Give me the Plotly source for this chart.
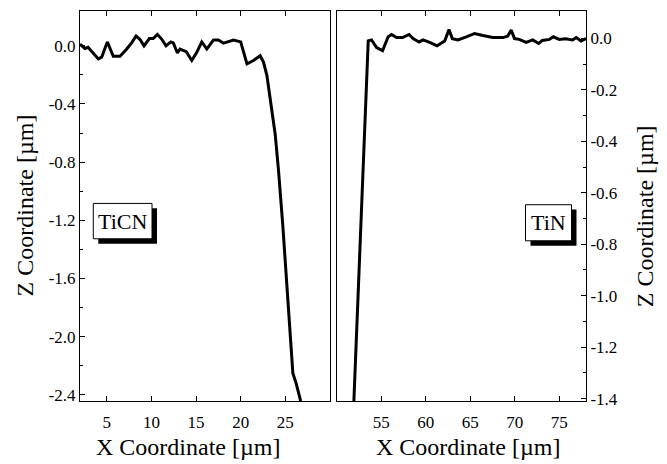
import plotly.graph_objects as go

# TiCN profile (left panel)
ticn_x = [2.0, 2.56, 2.9, 3.5, 4.05, 4.43, 5.06, 5.73, 6.48, 7.23, 7.8, 8.28, 8.7, 9.17, 9.77, 10.2,
          10.67, 11.16, 11.64, 12.17, 12.45, 12.91, 13.2, 13.9, 14.52, 15.08, 15.64, 16.2, 16.95,
          17.5, 18.07, 19.19, 20.0, 20.7, 21.43, 22.18, 22.55, 22.93, 23.38, 23.86, 24.23, 24.61,
          24.72, 25.09, 25.46, 25.84, 26.2, 26.66, 26.8]
ticn_z = [0.011, -0.018, -0.01, -0.05, -0.09, -0.078, 0.027, -0.072, -0.072, -0.022, 0.022, 0.068,
          0.045, 0.0, 0.05, 0.05, 0.079, 0.045, 0.0, 0.027, 0.02, -0.049, -0.022, -0.04, -0.101,
          -0.045, 0.027, -0.022, 0.04, 0.04, 0.018, 0.04, 0.027, -0.124, -0.101, -0.068, -0.112,
          -0.203, -0.405, -0.608, -0.855, -1.126, -1.24, -1.576, -1.914, -2.252, -2.32, -2.43, -2.5]

# TiN profile (right panel)
tin_x = [51.9, 51.94, 53.54, 53.92, 54.48, 55.15, 55.78, 56.16, 56.72, 57.4, 58.13, 58.58, 59.25,
         59.7, 60.45, 61.27, 62.13, 62.61, 62.99, 63.62, 64.56, 65.49, 66.42, 67.54, 68.66, 69.2,
         69.6, 69.97, 70.5, 71.28, 72.02, 72.69, 73.1, 73.89, 74.33, 75.0, 75.7, 76.5, 76.9, 77.44, 78.0]
tin_z = [-1.45, -1.40, -0.010, -0.006, -0.036, -0.048, 0.006, 0.015, 0.003, 0.003, 0.015, -0.001,
         -0.014, -0.006, -0.016, -0.029, -0.010, 0.034, -0.001, -0.006, 0.006, 0.019, 0.011, 0.003,
         0.003, 0.008, 0.032, -0.001, -0.004, -0.016, -0.006, -0.020, -0.008, -0.004, 0.006, -0.004,
         -0.002, -0.006, 0.003, -0.010, -0.001]

left_xticks = [5, 10, 15, 20, 25]
right_xticks = [55, 60, 65, 70, 75]
left_yticks = [0.0, -0.4, -0.8, -1.2, -1.6, -2.0, -2.4]
left_yminor = [-0.2, -0.6, -1.0, -1.4, -1.8, -2.2]
right_yticks = [0.0, -0.2, -0.4, -0.6, -0.8, -1.0, -1.2, -1.4]
right_yminor = [-0.1, -0.3, -0.5, -0.7, -0.9, -1.1, -1.3]

def lab(v):
    return "%.1f" % v

W, H = 667, 464
def px(x):
    return x / W
def py(y):
    return 1 - y / H

FONT = "Liberation Serif"
fig = go.Figure()
fig.add_trace(go.Scatter(x=ticn_x, y=ticn_z, mode="lines", line=dict(color="black", width=3),
                         xaxis="x", yaxis="y", showlegend=False))
fig.add_trace(go.Scatter(x=tin_x, y=tin_z, mode="lines", line=dict(color="black", width=3),
                         xaxis="x2", yaxis="y2", showlegend=False))

common = dict(showgrid=False, zeroline=False, showline=True, linecolor="black", linewidth=1,
              ticks="inside", ticklen=5, tickwidth=1, tickcolor="black",
              tickfont=dict(family=FONT, size=17, color="black"))

fig.update_layout(
    width=W, height=H, margin=dict(l=0, r=0, t=0, b=0),
    paper_bgcolor="white", plot_bgcolor="white",
    xaxis=dict(domain=[px(80), px(330)], range=[2, 30], anchor="y", mirror="ticks",
               ticklabelstandoff=6,
               tickmode="array", tickvals=left_xticks, ticktext=[str(v) for v in left_xticks], **common),
    yaxis=dict(domain=[py(408), py(11)], range=[-2.443, 0.241], anchor="x", mirror=True,
               tickmode="array", tickvals=left_yticks, ticktext=[lab(v) for v in left_yticks],
               minor=dict(tickmode="array", tickvals=left_yminor, ticks="inside", ticklen=3,
                          tickcolor="black"), **common),
    xaxis2=dict(domain=[px(336.7), px(586)], range=[50, 78], anchor="y2", mirror="ticks",
                ticklabelstandoff=6,
                tickmode="array", tickvals=right_xticks, ticktext=[str(v) for v in right_xticks], **common),
    yaxis2=dict(domain=[py(408), py(11)], range=[-1.409, 0.107], anchor="x2", side="right", mirror=True,
                tickmode="array", tickvals=right_yticks, ticktext=[lab(v) for v in right_yticks],
                minor=dict(tickmode="array", tickvals=right_yminor, ticks="inside", ticklen=3,
                           tickcolor="black"), **common),
)

# Axis titles
tf = dict(family=FONT, size=24, color="black")
fig.add_annotation(x=px(188), y=0, xref="paper", yref="paper", text="X Coordinate [µm]",
                   showarrow=False, font=tf, xanchor="center", yanchor="bottom", borderpad=0, yshift=-5)
fig.add_annotation(x=px(468), y=0, xref="paper", yref="paper", text="X Coordinate [µm]",
                   showarrow=False, font=tf, xanchor="center", yanchor="bottom", borderpad=0, yshift=-5)
fig.add_annotation(x=px(25), y=py(209), xref="paper", yref="paper", text="Z Coordinate [µm]",
                   textangle=-90, showarrow=False, font=tf, xanchor="center", yanchor="middle", borderpad=0)
fig.add_annotation(x=px(645), y=py(220), xref="paper", yref="paper", text="Z Coordinate [µm]",
                   textangle=-90, showarrow=False, font=tf, xanchor="center", yanchor="middle", borderpad=0)

# Labelled boxes with drop shadows
boxes = [("TiCN", 93.3, 207, 152, 243), ("TiN", 525.5, 208.3, 571.5, 245)]
for text, x0, y0, x1, y1 in boxes:
    fig.add_shape(type="rect", xref="paper", yref="paper", x0=px(x0 + 5), x1=px(x1 + 5),
                  y0=py(y1 + 5), y1=py(y0 + 5), fillcolor="black", line=dict(width=0))
    fig.add_shape(type="rect", xref="paper", yref="paper", x0=px(x0), x1=px(x1),
                  y0=py(y1), y1=py(y0), fillcolor="white", line=dict(color="black", width=1))
    fig.add_annotation(x=px((x0 + x1) / 2), y=py((y0 + y1) / 2), xref="paper", yref="paper",
                       text=text, showarrow=False, font=dict(family=FONT, size=22, color="black"),
                       xanchor="center", yanchor="middle")

fig.write_html("out.html")
